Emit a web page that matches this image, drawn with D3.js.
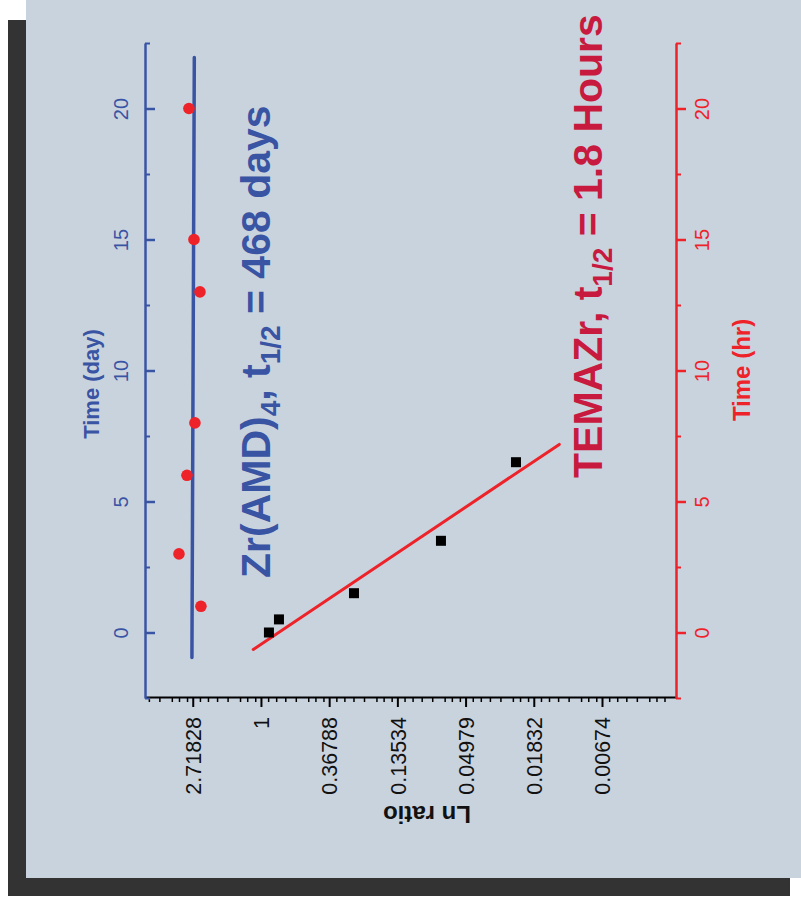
<!DOCTYPE html>
<html>
<head>
<meta charset="utf-8">
<script src="https://cdn.jsdelivr.net/npm/d3@7/dist/d3.min.js"></script>
<style>
  html, body { margin: 0; padding: 0; background: #ffffff; }
  svg { display: block; }
  text { font-family: "Liberation Sans", Arial, Helvetica, sans-serif; }
</style>
</head>
<body>
<svg id="chart" width="801" height="900"></svg>
<script>
// ---------------- data ----------------
const timeTicks = [0, 5, 10, 15, 20];
const timeMinorTicks = [-2.5, 2.5, 7.5, 12.5, 17.5, 22.5];
const lnTickValues = [1, 0, -1, -2, -3, -4, -5];
const lnTickLabels = ["2.71828", "1", "0.36788", "0.13534", "0.04979", "0.01832", "0.00674"];

// Zr(AMD)4 : time in days, ln ratio
const zrDays = [1, 3, 6, 8, 13, 15, 20];
const zrLn = [0.880, 1.202, 1.085, 0.968, 0.894, 0.982, 1.056];
const zrFitDays = [-0.95, 21.95];
const zrFitLn = [1.012, 0.977];

// TEMAZr : time in hours, ln ratio
const temaHours = [0, 0.5, 1.5, 3.5, 6.5];
const temaLn = [-0.117, -0.264, -1.364, -2.639, -3.739];
const temaFitHours = [-0.65, 7.18];
const temaFitLn = [0.113, -4.374];

// ---------------- chart ----------------
(function () {
const svg = d3.select("#chart");
const BLUE = "#3a54a4", RED = "#ee2229", CRIMSON = "#c81a3e";

// frame
svg.append("rect").attr("x", 8).attr("y", 20).attr("width", 782).attr("height", 876).attr("fill", "#333333");
svg.append("rect").attr("x", 26).attr("y", 0).attr("width", 775).attr("height", 878).attr("fill", "#c9d3de");

const pLeft = 145, pRight = 676, pTop = 43, pBottom = 697;

const x = d3.scaleLinear().domain([1.70, -6.085]).range([pLeft, pRight]);
const yDay = d3.scaleLinear().domain([-2.5, 22.5]).range([pBottom + 1, pTop]);
const yHr = d3.scaleLinear().domain([-2.5, 22.5]).range([pBottom + 1, pTop]);

// minor ticks on ln axis
const lnMinor = [];
for (let k = 2; k >= -7; k--) {
  [0.9, 0.8, 0.7, 0.6, 0.5, 0.45, 0.4].forEach(f => {
    const v = k + Math.log(f);
    if (v < 1.69 && v > -6.07) lnMinor.push(v);
  });
}

// bottom ln axis
const gx = svg.append("g").attr("transform", `translate(0,${pBottom})`);
gx.call(d3.axisBottom(x).tickValues(lnMinor).tickSize(5).tickFormat("").tickSizeOuter(0))
  .call(g => g.select(".domain").remove());
gx.selectAll("line").attr("stroke", "#000").attr("stroke-width", 1.5);
const gx2 = svg.append("g").attr("transform", `translate(0,${pBottom})`);
gx2.call(d3.axisBottom(x).tickValues(lnTickValues).tickSize(10).tickSizeOuter(0)
  .tickFormat((d, i) => lnTickLabels[i]));
gx2.select(".domain").attr("stroke", "#000").attr("stroke-width", 2);
gx2.selectAll("line").attr("stroke", "#000").attr("stroke-width", 2);
gx2.selectAll("text")
  .attr("transform", "rotate(-90)")
  .attr("x", -20).attr("y", 0).attr("dy", "0.36em")
  .attr("text-anchor", "end")
  .attr("font-size", 21.5).attr("fill", "#111");

// left (day) axis - blue
const gl = svg.append("g").attr("transform", `translate(${pLeft},0)`);
gl.call(d3.axisLeft(yDay).tickValues(timeMinorTicks).tickSize(-5).tickFormat("").tickSizeOuter(0));
gl.select(".domain").remove();
gl.selectAll("line").attr("stroke", BLUE).attr("stroke-width", 2);
const gl2 = svg.append("g").attr("transform", `translate(${pLeft},0)`);
gl2.call(d3.axisLeft(yDay).tickValues(timeTicks).tickSize(-10).tickSizeOuter(0).tickPadding(0));
gl2.select(".domain").attr("stroke", BLUE).attr("stroke-width", 2.5);
gl2.selectAll("line").attr("stroke", BLUE).attr("stroke-width", 2.5);
gl2.selectAll("text")
  .attr("transform", "translate(-24,0) rotate(-90)")
  .attr("x", 0).attr("y", 0).attr("dy", "0.36em")
  .attr("text-anchor", "middle").attr("font-size", 20).attr("fill", BLUE);

// right (hr) axis - red
const gr = svg.append("g").attr("transform", `translate(${pRight},0)`);
gr.call(d3.axisRight(yHr).tickValues(timeMinorTicks).tickSize(5).tickFormat("").tickSizeOuter(0));
gr.select(".domain").remove();
gr.selectAll("line").attr("stroke", RED).attr("stroke-width", 2);
const gr2 = svg.append("g").attr("transform", `translate(${pRight},0)`);
gr2.call(d3.axisRight(yHr).tickValues(timeTicks).tickSize(10).tickSizeOuter(0).tickPadding(0));
gr2.select(".domain").attr("stroke", RED).attr("stroke-width", 2.5);
gr2.selectAll("line").attr("stroke", RED).attr("stroke-width", 2.5);
gr2.selectAll("text")
  .attr("transform", "translate(26,0) rotate(-90)")
  .attr("x", 0).attr("y", 0).attr("dy", "0.36em")
  .attr("text-anchor", "middle").attr("font-size", 20).attr("fill", RED);

// axis titles
svg.append("text").attr("transform", `translate(99,384) rotate(-90)`)
  .attr("text-anchor", "middle").attr("font-size", 22).attr("font-weight", "bold")
  .attr("fill", BLUE).text("Time (day)");
svg.append("text").attr("transform", `translate(750,370) rotate(-90)`)
  .attr("text-anchor", "middle").attr("font-size", 24).attr("font-weight", "bold")
  .attr("fill", RED).text("Time (hr)");
svg.append("text").attr("transform", `translate(427,806) rotate(180)`)
  .attr("text-anchor", "middle").attr("font-size", 24).attr("font-weight", "bold")
  .attr("fill", "#111").text("Ln ratio");

// fit lines
const zrFit = zrFitDays.map((d, i) => [x(zrFitLn[i]), yDay(d)]);
svg.append("path").attr("d", d3.line()(zrFit)).attr("stroke", BLUE)
  .attr("stroke-width", 3.5).attr("fill", "none").attr("stroke-linecap", "round");
const temaFit = temaFitHours.map((d, i) => [x(temaFitLn[i]), yHr(d)]);
svg.append("path").attr("d", d3.line()(temaFit)).attr("stroke", RED)
  .attr("stroke-width", 3).attr("fill", "none").attr("stroke-linecap", "round");

// points
svg.append("g").selectAll("circle").data(zrDays).join("circle")
  .attr("cx", (d, i) => x(zrLn[i])).attr("cy", d => yDay(d))
  .attr("r", 5.8).attr("fill", RED);
svg.append("g").selectAll("rect").data(temaHours).join("rect")
  .attr("x", (d, i) => x(temaLn[i]) - 5).attr("y", d => yHr(d) - 5)
  .attr("width", 10).attr("height", 10).attr("fill", "#000");

// annotations
const t1 = svg.append("text").attr("transform", `translate(270,578) rotate(-90)`)
  .attr("font-size", 41).attr("font-weight", "bold").attr("fill", BLUE);
t1.append("tspan").text("Zr(AMD)");
t1.append("tspan").attr("font-size", 28).attr("dy", 10).text("4");
t1.append("tspan").attr("dy", -10).text(", t");
t1.append("tspan").attr("font-size", 28).attr("dy", 10).text("1/2");
t1.append("tspan").attr("dy", -10).text(" = 468 days");

const t2 = svg.append("text").attr("transform", `translate(602,478) rotate(-90)`)
  .attr("font-size", 41).attr("font-weight", "bold").attr("fill", CRIMSON);
t2.append("tspan").text("TEMAZr, t");
t2.append("tspan").attr("font-size", 28).attr("dy", 10).text("1/2");
t2.append("tspan").attr("dy", -10).text(" = 1.8 Hours");
})();
</script>
</body>
</html>
